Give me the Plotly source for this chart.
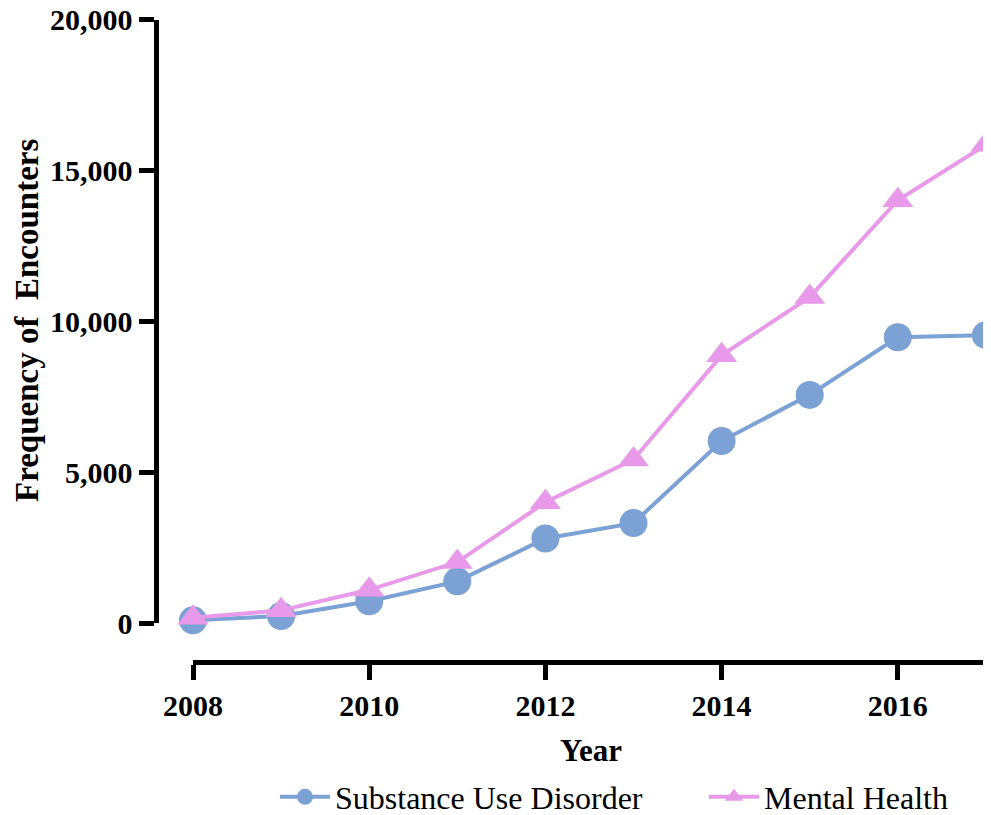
import plotly.graph_objects as go

years = [2008, 2009, 2010, 2011, 2012, 2013, 2014, 2015, 2016, 2017]
substance_use = [90, 230, 720, 1380, 2800, 3310, 6030, 7560, 9470, 9540]
mental_health = [170, 420, 1100, 2020, 4000, 5420, 8870, 10800, 14010, 15850]

y_ticks = [0, 5000, 10000, 15000, 20000]
y_tick_labels = ["0", "5,000", "10,000", "15,000", "20,000"]
x_ticks = [2008, 2010, 2012, 2014, 2016]

# page body has an 8px margin; figure overflows the window slightly on right/bottom
W, H = 983, 807
OFF = 8
BLUE = "#7CA1D5"
PINK = "#E899E9"
FONT = "Liberation Serif"


def px(xr):
    return (xr - OFF) / W


def py(yr):
    return 1 - (yr - OFF) / H


fig = go.Figure()
fig.add_trace(go.Scatter(
    x=years, y=substance_use, mode="lines+markers", name="Substance Use Disorder",
    line=dict(color=BLUE, width=4),
    marker=dict(symbol="circle", size=28, color=BLUE),
    cliponaxis=False,
))
fig.add_trace(go.Scatter(
    x=years, y=mental_health, mode="lines+markers", name="Mental Health",
    line=dict(color=PINK, width=4),
    marker=dict(symbol="triangle-up", size=27, color=PINK),
    cliponaxis=False,
))

fig.update_layout(
    width=W, height=H,
    margin=dict(l=0, r=0, t=0, b=0, autoexpand=False),
    paper_bgcolor="white", plot_bgcolor="white",
    font=dict(family=FONT, color="black"),
    showlegend=True,
    legend=dict(orientation="h", x=px(275), xanchor="left", y=py(797), yanchor="middle",
                itemwidth=50, entrywidth=364, entrywidthmode="pixels",
                font=dict(family=FONT, size=32, color="black"), bgcolor="rgba(0,0,0,0)"),
    xaxis=dict(
        domain=[px(193), 1], range=[2008, 2008 + (W + OFF - 193) / 88.1],
        anchor="free", position=py(661.5),
        showgrid=False, zeroline=False,
        showline=True, linecolor="black", linewidth=5,
        tickmode="array", tickvals=x_ticks, ticktext=[str(v) for v in x_ticks],
        ticks="outside", ticklen=15, tickwidth=5, tickcolor="black",
        tickfont=dict(family=FONT, size=30, color="black", weight="bold"),
        ticklabeloverflow="allow",
        automargin=False,
    ),
    yaxis=dict(
        domain=[py(623), py(19.5)], range=[0, 20000],
        anchor="free", position=px(155.5),
        showgrid=False, zeroline=False,
        showline=True, linecolor="black", linewidth=5,
        tickmode="array", tickvals=y_ticks, ticktext=y_tick_labels,
        ticks="outside", ticklen=15, tickwidth=5, tickcolor="black",
        tickfont=dict(family=FONT, size=30, color="black", weight="bold"),
        ticklabeloverflow="allow",
        automargin=False,
    ),
    annotations=[
        dict(text="<b>Year</b>", x=px(591), y=py(750), xref="paper", yref="paper",
             xanchor="center", yanchor="middle", showarrow=False,
             font=dict(family=FONT, size=31, color="black")),
        dict(text="<b>Frequency of  Encounters</b>", x=px(27), y=py(321), xref="paper", yref="paper",
             xanchor="center", yanchor="middle", showarrow=False, textangle=-90,
             font=dict(family=FONT, size=33, color="black")),
    ],
)

fig.write_html("out.html")
